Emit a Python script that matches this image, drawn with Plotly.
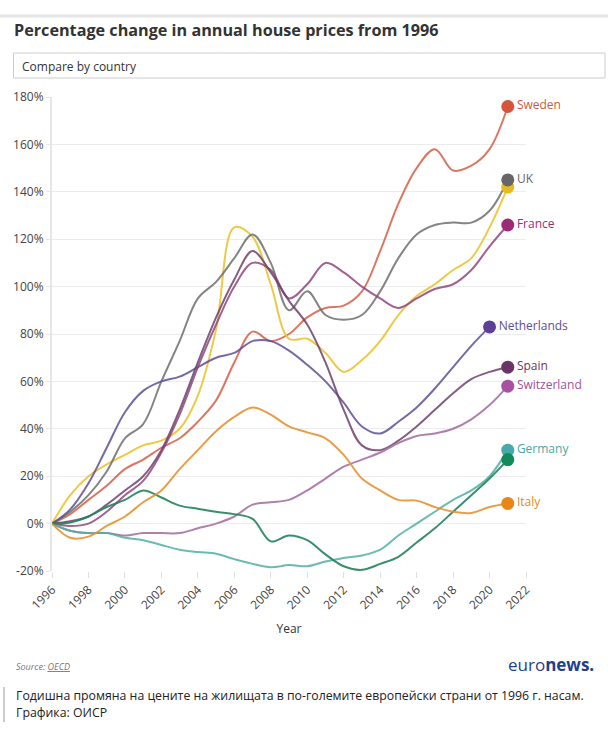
import plotly.graph_objects as go

years = list(range(1996, 2022))
years_nl = list(range(1996, 2021))

sweden = [0, 4, 10, 16, 23, 27, 32, 36, 43, 52, 68, 81, 77, 80, 87, 91, 92, 98, 115, 135, 150, 158, 149, 151, 158, 176]
uk = [0, 5, 12, 22, 36, 42, 60, 77, 95, 102, 112, 122, 110, 90, 98, 88, 86, 88, 98, 112, 122, 126, 127, 127, 132, 145]
unlabelled_yellow = [0, 12, 20, 25, 29, 33, 35, 40, 54, 82, 125, 121, 101, 78, 78, 72, 64, 69, 77, 88, 96, 101, 107, 112, 125, 142]
france = [0, -1, 0, 5, 12, 18, 30, 46, 66, 84, 100, 110, 107, 95, 101, 110, 106, 100, 95, 91, 95, 99, 101, 107, 117, 126]
netherlands = [0, 6, 17, 32, 47, 56, 60, 62, 66, 70, 72, 77, 77, 73, 67, 60, 51, 41, 38, 43, 49, 57, 66, 75, 83]
spain = [0, 1, 3, 8, 14, 20, 31, 48, 68, 87, 103, 115, 106, 94, 84, 68, 48, 33, 31, 35, 41, 48, 55, 61, 64, 66]
switzerland = [0, -3, -4, -4, -5, -4, -4, -4, -2, 0, 3, 8, 9, 10, 14, 19, 24, 27, 30, 34, 37, 38, 40, 44, 50, 58]
germany = [0, -3, -4, -4, -6, -7, -9, -11, -12, -12.7, -15, -17, -18.4, -17.5, -18, -16, -14.5, -13.5, -11, -5, 0, 5, 10, 14, 20, 31]
unlabelled_green = [0, 0.5, 3, 7, 10, 14, 11, 7.6, 6.3, 5, 4, 2, -7.5, -5, -7, -13, -18, -19.5, -17, -14, -8, -2, 5, 12, 19, 27]
italy = [0, -6, -5.5, -1, 3, 9, 14, 23, 31, 39, 45, 49, 46, 41, 38.5, 36, 29, 19, 14, 10, 9.7, 7, 5, 4.5, 7, 8.5]

x_ticks = list(range(1996, 2023, 2))
y_ticks = list(range(-20, 181, 20))

# (label shown, trace name, years, values, marker colour, line colour)
series = [
    ("Sweden", "Sweden", years, sweden, "#d4553a", "rgba(212,95,70,0.85)"),
    ("", "Series (label hidden, yellow)", years, unlabelled_yellow, "#e9b91f", "rgba(234,196,50,0.9)"),
    ("UK", "UK", years, uk, "#666666", "rgba(110,110,110,0.85)"),
    ("France", "France", years, france, "#9c2b76", "rgba(145,70,125,0.85)"),
    ("Netherlands", "Netherlands", years_nl, netherlands, "#5b3f98", "rgba(95,78,150,0.85)"),
    ("Spain", "Spain", years, spain, "#6b3466", "rgba(110,65,108,0.85)"),
    ("Switzerland", "Switzerland", years, switzerland, "#a851a3", "rgba(165,115,163,0.9)"),
    ("Germany", "Germany", years, germany, "#46aaa6", "rgba(80,175,165,0.85)"),
    ("", "Series (label hidden, green)", years, unlabelled_green, "#128a5c", "rgba(35,130,92,0.9)"),
    ("Italy", "Italy", years, italy, "#e8861a", "rgba(228,148,50,0.9)"),
]

label_colors = {
    "Sweden": "#c95a44", "UK": "#666666", "France": "#9c2b76", "Netherlands": "#5d4d96",
    "Spain": "#6b3466", "Switzerland": "#a04f9b", "Germany": "#4aa6a0", "Italy": "#e08a24",
}

fig = go.Figure()
for label, name, xs, ys, mc, lc in series:
    fig.add_trace(go.Scatter(
        x=xs, y=ys, mode="lines", name=name,
        line=dict(color=lc, width=2, shape="spline", smoothing=1.0),
        showlegend=False, hoverinfo="x+y+name",
    ))

for label, name, xs, ys, mc, lc in series:
    fig.add_trace(go.Scatter(
        x=[xs[-1]], y=[ys[-1]], mode="markers+text", name=name,
        marker=dict(color=mc, size=13),
        text=[label], textposition="middle right",
        textfont=dict(family="Open Sans", size=12, color=label_colors.get(label, mc)),
        cliponaxis=False, showlegend=False,
    ))

L, R, T, B = 52, 526, 97, 571


def px(x):
    return (x - L) / (R - L)


def py(y):
    return (B - y) / (B - T)


shapes = [
    dict(type="line", xref="paper", yref="paper", x0=px(0), x1=px(608), y0=py(16), y1=py(16),
         line=dict(color="rgba(0,0,0,0.10)", width=3)),
    dict(type="rect", xref="paper", yref="paper", x0=px(13.5), x1=px(605), y0=py(78), y1=py(53),
         line=dict(color="#cccccc", width=1), fillcolor="white"),
    dict(type="line", xref="paper", yref="paper", x0=px(4), x1=px(4), y0=py(687), y1=py(722),
         line=dict(color="#999999", width=1)),
]

annotations = [
    dict(xref="paper", yref="paper", x=px(20), y=py(66), xanchor="left", yanchor="middle",
         text="Compare by country", showarrow=False,
         font=dict(family="Open Sans", size=12, color="#333333")),
    dict(xref="paper", yref="paper", x=px(14), y=py(666), xanchor="left", yanchor="middle",
         text="<i>Source: <u>OECD</u></i>", showarrow=False,
         font=dict(family="Open Sans", size=9, color="#777777")),
    dict(xref="paper", yref="paper", x=px(596), y=py(664), xanchor="right", yanchor="middle",
         text="euro<b>news.</b>", showarrow=False,
         font=dict(family="Open Sans", size=17, color="#1f3f8f")),
    dict(xref="paper", yref="paper", x=px(14), y=py(695), xanchor="left", yanchor="middle",
         text="Годишна промяна на цените на жилищата в по-големите европейски страни от 1996 г. насам.",
         showarrow=False, font=dict(family="Open Sans", size=12.3, color="#222222")),
    dict(xref="paper", yref="paper", x=px(14), y=py(712), xanchor="left", yanchor="middle",
         text="Графика: ОИСР", showarrow=False,
         font=dict(family="Open Sans", size=12.3, color="#222222")),
]

fig.update_layout(
    width=608, height=730,
    margin=dict(l=L, r=608 - R, t=T, b=730 - B, pad=0),
    paper_bgcolor="white", plot_bgcolor="white",
    font=dict(family="Open Sans", color="#333333"),
    title=dict(text="<b>Percentage change in annual house prices from 1996</b>",
               x=14 / 608, xanchor="left", xref="container",
               y=1 - 30 / 730, yanchor="middle", yref="container",
               font=dict(family="Open Sans", size=16.2, color="#333333")),
    shapes=shapes, annotations=annotations,
    showlegend=False,
    xaxis=dict(range=[1996, 2022], tickvals=x_ticks, ticktext=[str(v) for v in x_ticks],
               tickangle=-45, ticks="outside", ticklen=6, tickcolor="#e0e0e0",
               showgrid=False, zeroline=False, showline=False,
               tickfont=dict(size=12, color="#444444"),
               title=dict(text="Year", font=dict(size=12, color="#333333"), standoff=12)),
    yaxis=dict(range=[-20, 180], tickvals=y_ticks, ticktext=[f"{v}%" for v in y_ticks],
               showgrid=True, gridcolor="#ececec", gridwidth=1, zeroline=False,
               showline=True, linecolor="#e6e6e6", linewidth=2,
               ticks="outside", ticklen=4, tickcolor="#e6e6e6",
               tickfont=dict(size=12, color="#444444")),
)

fig.write_html("out.html", config={"displayModeBar": False},
               post_script="document.body.style.margin='0';document.body.style.overflow='hidden';")
